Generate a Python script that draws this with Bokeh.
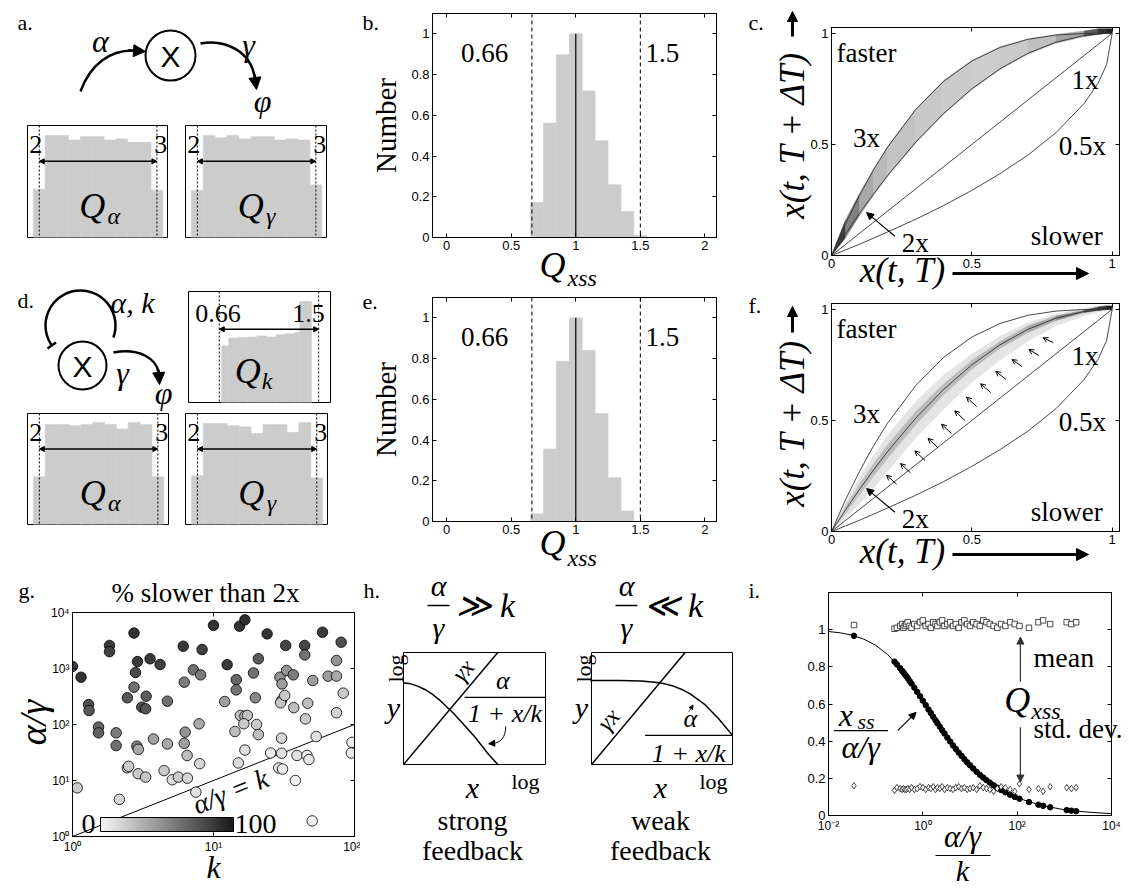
import math
from bokeh.plotting import figure
from bokeh.layouts import row, column
from bokeh.models import (Label, Arrow, NormalHead, OpenHead, FixedTicker, CustomJSTickFormatter,
                          ColorBar, LinearColorMapper, LinearAxis, Span, ColumnDataSource, GridBox)
from bokeh.embed import file_html
from bokeh.resources import INLINE

SERIF = "Liberation Serif"
SANS = "Liberation Sans"
BAR = "#cccccc"
CURVE = "#333333"

# ------------------------------------------------------------------ data
# a / d : parameter histograms (uniform 2..3), normalised heights
unif_edges = [1.95, 2.05, 2.15, 2.25, 2.35, 2.45, 2.55, 2.65, 2.75, 2.85, 2.95, 3.05]
a_alpha_heights = [0.43, 0.91, 0.91, 0.87, 0.90, 0.90, 0.87, 0.88, 0.85, 0.85, 0.42]
a_gamma_heights = [0.42, 0.91, 0.89, 0.91, 0.88, 0.90, 0.90, 0.87, 0.88, 0.87, 0.47]
d_alpha_heights = [0.43, 0.90, 0.90, 0.89, 0.90, 0.92, 0.90, 0.86, 0.92, 0.90, 0.43]
d_gamma_heights = [0.44, 0.91, 0.91, 0.89, 0.88, 0.82, 0.90, 0.90, 0.83, 0.92, 0.42]
unif_lo, unif_hi = 2, 3
k_edges = [0.68, 0.74, 0.82, 0.90, 0.98, 1.06, 1.14, 1.22, 1.30, 1.34, 1.44]
k_heights = [0.51, 0.58, 0.585, 0.59, 0.60, 0.59, 0.61, 0.62, 0.63, 0.91]

# b / e : Q_xss histograms
q_edges = [0.65, 0.75, 0.85, 0.95, 1.05, 1.15, 1.25, 1.35, 1.45, 1.55]
b_heights = [0.172, 0.562, 0.897, 1.0, 0.72, 0.475, 0.259, 0.128, 0.011]
e_heights = [0.038, 0.356, 0.787, 1.0, 0.84, 0.53, 0.215, 0.052, 0.0]
q_lo, q_hi, q_nominal = 0.66, 1.5, 1.0

# c / f : response curves x(t,T) -> x(t,T+dT)
cx = [0, 0.05, 0.1, 0.15, 0.2, 0.3, 0.4, 0.5, 0.6, 0.7, 0.8, 0.9, 0.95, 0.98, 1.0]
y_2x = [0, 0.0975, 0.19, 0.2775, 0.36, 0.51, 0.64, 0.75, 0.84, 0.91, 0.96, 0.99, 0.9975, 0.9996, 1.0]
y_3x = [0, 0.143, 0.271, 0.386, 0.488, 0.657, 0.784, 0.875, 0.936, 0.973, 0.992, 0.999, 1.0, 1.0, 1.0]
y_05x = [0, 0.025, 0.051, 0.078, 0.106, 0.163, 0.225, 0.293, 0.368, 0.452, 0.553, 0.684, 0.776, 0.859, 1.0]
diag_x = [0, 1]
diag_y = [0, 1]
c_band_top = [0, 0.16, 0.28, 0.39, 0.49, 0.66, 0.79, 0.88, 0.94, 0.975, 0.995, 1.01, 1.02, 1.02, 1.02]
c_band_bottom = [0, 0.08, 0.18, 0.27, 0.355, 0.505, 0.635, 0.745, 0.835, 0.905, 0.955, 0.985, 0.995, 1.0, 1.0]
c_band_colors = ["#3c3c3c", "#808080", "#a8a8a8", "#bababa", "#c2c2c2", "#c8c8c8", "#cbcbcb",
                 "#cdcdcd", "#cacaca", "#c0c0c0", "#a4a4a4", "#5a5a5a", "#303030", "#202020"]
f_band_top = [0, 0.13, 0.245, 0.345, 0.435, 0.585, 0.705, 0.80, 0.88, 0.94, 0.98, 1.005, 1.015, 1.02, 1.02]
f_band_bottom = [0, 0.055, 0.125, 0.195, 0.27, 0.42, 0.55, 0.67, 0.77, 0.855, 0.925, 0.97, 0.985, 0.995, 1.0]
f_core_top = [0, 0.115, 0.215, 0.305, 0.39, 0.54, 0.665, 0.77, 0.855, 0.925, 0.97, 0.995, 1.01, 1.015, 1.015]
f_core_bottom = [0, 0.08, 0.165, 0.25, 0.33, 0.48, 0.615, 0.73, 0.825, 0.895, 0.95, 0.985, 0.995, 1.0, 1.0]
f_core_colors = ["#cdcdcd", "#c6c6c6", "#c0c0c0", "#bdbdbd", "#bcbcbc", "#bcbcbc", "#bcbcbc",
                 "#bababa", "#b6b6b6", "#aaaaaa", "#8c8c8c", "#505050", "#303030", "#202020"]
f_arrow_head_x = [0.196, 0.246, 0.297, 0.344, 0.392, 0.439, 0.481, 0.531, 0.585, 0.643, 0.703, 0.754]
f_arrow_head_y = [0.253, 0.306, 0.363, 0.419, 0.483, 0.543, 0.605, 0.665, 0.721, 0.774, 0.819, 0.872]
f_arrow_tail_x = [0.232, 0.282, 0.333, 0.380, 0.428, 0.475, 0.517, 0.567, 0.621, 0.679, 0.739, 0.790]
f_arrow_tail_y = [0.213, 0.263, 0.320, 0.376, 0.440, 0.500, 0.562, 0.625, 0.685, 0.742, 0.792, 0.850]

# g : % slower than 2x
g_k = [1.0, 1.15, 1.08, 1.30, 1.31, 1.53, 1.53, 1.83, 1.83, 2.04, 2.04, 2.15, 2.45, 2.5, 2.45, 2.73, 2.8,
       2.89, 2.73, 2.86, 2.93, 2.92, 3.3, 3.1, 3.3, 3.33, 3.55, 3.75, 4.18, 4.46, 4.71, 4.71, 5.1, 5.63,
       6.53, 6.1, 6.2, 6.2, 6.3, 6.5, 7.2, 7.5, 7.98, 7.9, 8.1, 8.3, 10.0, 12.5, 12.0, 14.2, 14.5, 14.5,
       15.0, 15.3, 16.7, 15.5, 16.7, 17.4, 16.4, 16.7, 19.2, 19.8, 20.2, 20.8, 20.8, 24.0, 25.4, 29.0,
       30.9, 30.4, 30.4, 29.6, 30.6, 30.4, 29.9, 32.0, 32.5, 33.0, 36.8, 37.1, 38.1, 39.1, 44.3, 44.4,
       44.9, 46.0, 46.6, 47.5, 50.1, 50.6, 53.5, 59.3, 65.0, 74.5, 74.5, 74.5, 80.4, 83.2, 96.0, 95.0]
g_ratio = [1090, 700, 7.4, 227, 178, 90, 71, 2580, 2000, 71, 42, 4.6, 16.8, 17.9, 300, 464, 850, 1330,
           4300, 41, 36, 13.2, 11.5, 204, 191, 320, 1490, 55, 1180, 15, 45, 261, 10.3, 11.5, 11, 2500,
           570, 46, 73, 28, 946, 6.2, 20, 103, 770, 2180, 5900, 1170, 257, 75, 630, 415, 20.6, 5700,
           7400, 145, 141, 145, 103, 35, 833, 300, 100, 66, 1490, 4150, 31, 16.8, 16, 57, 30.7, 700,
           530, 270, 244, 330, 2580, 920, 770, 200, 10, 28, 2580, 1750, 126, 28, 240, 23.7, 1.9, 611,
           61, 4450, 730, 1390, 730, 162, 2950, 363, 48, 31]
g_shade = [85, 88, 20, 75, 72, 65, 68, 85, 82, 55, 60, 15, 22, 20, 72, 60, 78, 85, 88, 55, 35, 20, 22,
           75, 72, 70, 85, 38, 82, 20, 35, 60, 12, 20, 15, 85, 55, 40, 45, 25, 60, 10, 15, 35, 55, 82,
           88, 85, 40, 25, 65, 58, 12, 88, 90, 25, 25, 25, 20, 12, 60, 50, 20, 25, 70, 88, 5, 8, 5, 15,
           10, 45, 40, 25, 22, 20, 80, 45, 55, 25, 3, 10, 80, 60, 20, 5, 25, 8, 2, 40, 10, 85, 40, 45,
           35, 15, 75, 20, 3, 5]
g_line_k = [1, 100]
g_line_ratio = [1, 100]

# h : schematic nullclines (box units)
h_line_x = [0, 0.664]
h_line_y = [0, 1]
h_strong_x = [0, 0.05, 0.10, 0.15, 0.20, 0.25, 0.30, 0.35, 0.40, 0.50, 0.60, 0.664]
h_strong_y = [0.73, 0.72, 0.70, 0.67, 0.63, 0.58, 0.52, 0.46, 0.39, 0.25, 0.09, 0.0]
h_weak_x = [0, 0.2, 0.35, 0.45, 0.52, 0.58, 0.64, 0.7, 0.8, 0.9, 1.0]
h_weak_y = [0.75, 0.75, 0.745, 0.735, 0.72, 0.70, 0.67, 0.63, 0.54, 0.41, 0.26]

# i : normalised steady state vs (alpha/gamma)/k
i_curve_ratio = [0.01, 0.0178, 0.0316, 0.0562, 0.1, 0.178, 0.316, 0.562, 1, 1.78, 3.16, 5.62, 10,
                 17.8, 31.6, 56.2, 100, 316, 1000, 3162, 10000]
i_curve_y = [0.990, 0.983, 0.970, 0.949, 0.916, 0.867, 0.798, 0.714, 0.618, 0.520, 0.426, 0.342,
             0.270, 0.211, 0.163, 0.125, 0.095, 0.055, 0.031, 0.018, 0.010]
i_ratio = [0.0347, 0.251, 0.282, 0.331, 0.363, 0.389, 0.417, 0.447, 0.479, 0.525, 0.575, 0.661, 0.759,
           0.871, 1.0, 1.15, 1.32, 1.48, 1.66, 1.86, 2.04, 2.29, 2.57, 2.88, 3.31, 3.80, 4.37, 5.01,
           5.75, 6.61, 7.59, 8.71, 10.0, 11.7, 13.8, 16.2, 19.1, 22.4, 26.3, 31.6, 38.0, 45.7, 56.2,
           70.8, 89.1, 112, 178, 282, 355, 501, 1122, 1413, 1778]
i_xss = [0.967, 0.828, 0.813, 0.792, 0.779, 0.770, 0.759, 0.749, 0.739, 0.724, 0.710, 0.688, 0.665,
         0.642, 0.618, 0.594, 0.570, 0.551, 0.531, 0.512, 0.497, 0.478, 0.459, 0.441, 0.419, 0.398,
         0.377, 0.358, 0.339, 0.321, 0.303, 0.286, 0.270, 0.253, 0.235, 0.219, 0.204, 0.190, 0.177,
         0.163, 0.150, 0.137, 0.125, 0.112, 0.100, 0.090, 0.072, 0.058, 0.052, 0.044, 0.029, 0.026, 0.023]
i_mean = [1.025, 1.005, 1.010, 1.020, 1.030, 1.010, 1.020, 1.030, 1.040, 1.020,
          1.010, 1.030, 1.020, 1.040, 1.050, 1.020, 1.030, 1.010, 1.040, 1.030,
          1.020, 1.040, 1.050, 1.020, 1.030, 1.040, 1.020, 1.030, 1.010, 1.040,
          1.050, 1.030, 1.020, 1.040, 1.030, 1.020, 1.050, 1.040, 1.030, 1.020,
          1.010, 1.030, 1.020, 1.040, 1.030, 1.020, 1.010, 1.040, 1.050, 1.030,
          1.040, 1.030, 1.040]
i_std = [0.160, 0.135, 0.150, 0.145, 0.140, 0.145, 0.140, 0.140, 0.145, 0.140,
         0.150, 0.140, 0.145, 0.155, 0.150, 0.140, 0.150, 0.145, 0.155, 0.140,
         0.150, 0.145, 0.155, 0.140, 0.150, 0.145, 0.140, 0.150, 0.155, 0.145,
         0.150, 0.140, 0.145, 0.150, 0.140, 0.160, 0.150, 0.145, 0.140, 0.130,
         0.145, 0.155, 0.150, 0.140, 0.130, 0.170, 0.140, 0.145, 0.130, 0.155,
         0.150, 0.145, 0.150]


# ------------------------------------------------------------------ helpers
def panel(w, h, left, top, fw, fh, xr, yr, axes=False, outline=True, xlog=False, ylog=False):
    p = figure(width=w, height=h, x_range=xr, y_range=yr,
               x_axis_type="log" if xlog else "linear", y_axis_type="log" if ylog else "linear",
               x_axis_location="below" if axes else None, y_axis_location="left" if axes else None,
               toolbar_location=None, output_backend="svg", frame_align=False,
               min_border_left=left, min_border_top=top,
               min_border_right=w - left - fw, min_border_bottom=h - top - fh)
    p.grid.visible = False
    p.outline_line_color = "black" if outline else None
    p.outline_line_width = 1
    p.background_fill_color = "white"
    p.border_fill_color = "white"
    return p


def num_fmt():
    return CustomJSTickFormatter(code="return String(Math.round(tick*100)/100);")


def sup_fmt():
    return CustomJSTickFormatter(code="""
const s = {'-':'\u207b','0':'\u2070','1':'\u00b9','2':'\u00b2','3':'\u00b3','4':'\u2074'};
const e = Math.round(Math.log10(tick));
return '10' + String(e).split('').map(c => s[c]).join('');
""")


def style_axis(ax, ticks, fmt, size=13):
    ax.ticker = FixedTicker(ticks=ticks)
    ax.formatter = fmt
    ax.major_tick_in = 4
    ax.major_tick_out = 0
    ax.minor_tick_line_color = None
    ax.axis_line_color = "black"
    ax.major_tick_line_color = "black"
    ax.major_label_text_font = SANS
    ax.major_label_text_font_size = f"{size}px"
    ax.major_label_text_color = "black"
    ax.major_label_standoff = 3


def box_ticks(p, xticks, yticks):
    for place, t in (("above", xticks), ("right", yticks)):
        ax = LinearAxis()
        style_axis(ax, t, CustomJSTickFormatter(code="return '';"))
        ax.major_label_text_font_size = "0px"
        ax.major_label_standoff = 0
        p.add_layout(ax, place)


def lab(p, x, y, text, size, font=SERIF, style="normal", align="left", baseline="middle",
        angle=0.0, color="black"):
    p.add_layout(Label(x=x, y=y, text=text, text_font=font, text_font_size=f"{size}px",
                       text_font_style=style, text_align=align, text_baseline=baseline,
                       angle=angle, text_color=color))


def arrow(p, x0, y0, x1, y1, size=8, width=1.0, color="black", open_head=False, both=False, head=True):
    def mk():
        if open_head:
            return OpenHead(size=size, line_color=color, line_width=width)
        return NormalHead(size=size, fill_color=color, line_color=color, line_width=1)
    p.add_layout(Arrow(x_start=x0, y_start=y0, x_end=x1, y_end=y1,
                       start=mk() if both else None, end=mk() if head else None,
                       line_color=color, line_width=width))


def small_hist(w, h, left, top, fw, fh, xr, edges, heights, lo, hi, lo_txt, hi_txt,
               lo_x, lo_align, hi_x, hi_align, txt_y, bar_y, q_x, sub, sub_x):
    p = panel(w, h, left, top, fw, fh, xr, (0, 1))
    p.quad(left=edges[:-1], right=edges[1:], bottom=0, top=heights, fill_color=BAR,
           line_color=BAR, line_width=0.6)
    for v in (lo, hi):
        p.add_layout(Span(location=v, dimension="height", line_color="black", line_dash="2 2", line_width=1))
    arrow(p, lo, bar_y, hi, bar_y, size=5, width=1.5, both=True)
    lab(p, lo_x, txt_y, lo_txt, 26, align=lo_align)
    lab(p, hi_x, txt_y, hi_txt, 26, align=hi_align)
    lab(p, q_x, 0.28, "Q", 36, style="italic", align="center")
    lab(p, sub_x, 0.19, sub, 24, style="italic")
    return p


def unif(w, h, left, top, fw, fh, heights, sub):
    return small_hist(w, h, left, top, fw, fh, (1.9, 3.09), unif_edges, heights, unif_lo, unif_hi,
                      "2", "3", 1.915, "left", 3.088, "right", 0.83, 0.68, 2.45, sub, 2.58)


def qxss(h, top, heights):
    p = panel(400, h, 92, top, 284, 224, (-0.11, 2.09), (0, 1.1), axes=True)
    p.quad(left=q_edges[:-1], right=q_edges[1:], bottom=0, top=heights, fill_color=BAR,
           line_color=BAR, line_width=0.6)
    for v in (q_lo, q_hi):
        p.add_layout(Span(location=v, dimension="height", line_dash="4 3", line_color="black", line_width=1))
    p.line([q_nominal, q_nominal], [0, max(heights)], line_color="black", line_width=1.2)
    xt = [0, 0.5, 1, 1.5, 2]
    yt = [0, 0.2, 0.4, 0.6, 0.8, 1]
    style_axis(p.xaxis[0], xt, num_fmt())
    style_axis(p.yaxis[0], yt, num_fmt())
    box_ticks(p, xt, yt)
    p.yaxis[0].axis_label = "Number"
    p.yaxis[0].axis_label_text_font = SERIF
    p.yaxis[0].axis_label_text_font_style = "normal"
    p.yaxis[0].axis_label_text_font_size = "29px"
    p.yaxis[0].axis_label_text_color = "black"
    p.yaxis[0].axis_label_standoff = 6
    lab(p, 0.11, 0.905, "0.66", 27)
    lab(p, 1.54, 0.905, "1.5", 27)
    return p


def speed(h, top, core=False):
    p = panel(389, h, 91, top, 288, 228, (0, 1.026), (0, 1.026), axes=True)
    segs = range(len(cx) - 1)
    xs = [[cx[i], cx[i + 1], cx[i + 1], cx[i]] for i in segs]
    if core:
        p.varea(x=cx, y1=f_band_bottom, y2=f_band_top, fill_color="#e4e4e4")
        ys = [[f_core_bottom[i], f_core_bottom[i + 1], f_core_top[i + 1], f_core_top[i]] for i in segs]
        p.patches(xs, ys, fill_color=f_core_colors, line_color=f_core_colors, line_width=0.5)
    else:
        ys = [[c_band_bottom[i], c_band_bottom[i + 1], c_band_top[i + 1], c_band_top[i]] for i in segs]
        p.patches(xs, ys, fill_color=c_band_colors, line_color=c_band_colors, line_width=0.5)
    for yy in (y_2x, y_3x, y_05x):
        p.line(cx, yy, line_color=CURVE, line_width=0.9)
    p.line(diag_x, diag_y, line_color=CURVE, line_width=0.9)
    t = [0, 0.5, 1]
    style_axis(p.xaxis[0], t, num_fmt())
    style_axis(p.yaxis[0], t, num_fmt())
    box_ticks(p, t, t)
    lab(p, 0.018, 0.91, "faster", 27)
    lab(p, 0.077, 0.53, "3x", 27)
    lab(p, 0.855, 0.79, "1x", 27)
    lab(p, 0.81, 0.495, "0.5x", 27)
    lab(p, 0.71, 0.09, "slower", 27)
    lab(p, 0.25, 0.057, "2x", 27)
    arrow(p, 0.226, 0.087, 0.125, 0.193, size=7, width=1.2)
    return p


# ------------------------------------------------------------------ row 1
pa = panel(340, 120, 0, 0, 340, 120, (0, 340), (0, 120), outline=False)
lab(pa, 17, 98, "a.", 22)
pa.circle(x=[170], y=[65], radius=25, fill_color=None, line_color="black", line_width=2)
lab(pa, 170, 64, "X", 30, font=SANS, align="center")
pa.bezier(x0=[80], y0=[29], cx0=[90], cy0=[57], cx1=[110], cy1=[70], x1=[132], y1=[70],
          line_color="black", line_width=2.5)
arrow(pa, 128, 70.2, 145, 69, size=12, width=2.5)
lab(pa, 100, 80, "α", 32, style="italic", align="center")
pa.bezier(x0=[200], y0=[77], cx0=[226], cy0=[82], cx1=[250], cy1=[68], x1=[254], y1=[44],
          line_color="black", line_width=2.5)
arrow(pa, 254, 46, 256, 31, size=12, width=2.5)
lab(pa, 248, 76, "γ", 32, style="italic", align="center")
lab(pa, 262, 20, "φ", 32, style="italic", align="center")

hA1 = unif(176, 165, 27, 5, 140, 112, a_alpha_heights, "α")
hA2 = unif(164, 165, 9, 5, 141, 112, a_gamma_heights, "γ")
pb = qxss(285, 13, b_heights)
pc = speed(285, 27)

# ------------------------------------------------------------------ row 2
pd = panel(176, 120, 0, 0, 176, 120, (0, 176), (0, 120), outline=False)
lab(pd, 17, 105, "d.", 22)
pd.arc(x=[80], y=[80], radius=35, start_angle=-20, end_angle=215, start_angle_units="deg",
       end_angle_units="deg", direction="anticlock", line_color="black", line_width=2.5)
pd.segment(x0=[47], y0=[57], x1=[55.5], y1=[63], line_color="black", line_width=2.5)
pd.circle(x=[82], y=[40], radius=24, fill_color=None, line_color="black", line_width=2)
lab(pd, 82, 39, "X", 30, font=SANS, align="center")
pd.bezier(x0=[113], y0=[53], cx0=[140], cy0=[58], cx1=[156], cy1=[46], x1=[158], y1=[33],
          line_color="black", line_width=2.5)
arrow(pd, 158, 36, 159, 21, size=12, width=2.5)
lab(pd, 122, 33, "γ", 32, style="italic", align="center")

hK = small_hist(164, 120, 12, 6, 142, 111, (0.40, 1.60), k_edges, k_heights, q_lo, q_hi,
                "0.66", "1.5", 0.65, "center", 1.415, "center", 0.80, 0.66, 0.90, "k", 1.02)
hD1 = unif(176, 175, 27, 8, 141, 111, d_alpha_heights, "α")
hD2 = unif(164, 175, 9, 8, 142, 111, d_gamma_heights, "γ")
pe = qxss(295, 12, e_heights)
pf = speed(295, 18, core=True)
pf.add_layout(Arrow(source=ColumnDataSource(dict(x0=f_arrow_tail_x, y0=f_arrow_tail_y,
                                                  x1=f_arrow_head_x, y1=f_arrow_head_y)),
                    x_start="x0", y_start="y0", x_end="x1", y_end="y1",
                    end=OpenHead(size=5, line_color="black", line_width=1),
                    line_color="black", line_width=1))

# ------------------------------------------------------------------ row 3
pg = panel(360, 308, 72, 32, 282, 224, (1, 100), (1, 10000), axes=True, xlog=True, ylog=True)
pal = ["#%02x%02x%02x" % (v, v, v) for v in range(246, 24, -1)]
mapper = LinearColorMapper(palette=pal, low=0, high=100)
pg.line(g_line_k, g_line_ratio, line_color="black", line_width=1)
src_g = ColumnDataSource(dict(k=g_k, r=g_ratio, shade=g_shade))
pg.scatter("k", "r", source=src_g, size=10.5, line_color="black", line_width=0.8,
           fill_color={"field": "shade", "transform": mapper})
style_axis(pg.xaxis[0], [1, 10, 100], sup_fmt(), 12)
style_axis(pg.yaxis[0], [1, 10, 100, 1000, 10000], sup_fmt(), 12)
box_ticks(pg, [1, 10, 100], [1, 10, 100, 1000, 10000])
cb = ColorBar(color_mapper=mapper, orientation="horizontal", location=(28, 5), width=133, height=14,
              padding=0, margin=0, ticker=FixedTicker(ticks=[]), major_label_text_font_size="0px",
              major_tick_line_color=None, minor_tick_line_color=None, bar_line_color="black",
              border_line_color=None, background_fill_alpha=0.0, label_standoff=0)
pg.add_layout(cb)
lab(pg, 1.30, 1.64, "0", 28, align="center")
lab(pg, 14.1, 1.64, "100", 28)
lab(pg, 13.2, 6.4, "α/γ = k", 28, style="italic", align="center", angle=0.379)

ph1 = panel(200, 308, 43, 72, 142, 112, (0, 1), (0, 1))
ph1.line(h_line_x, h_line_y, line_color="black", line_width=1.5)
ph1.line(h_strong_x, h_strong_y, line_color="black", line_width=1.5)
lab(ph1, 0.42, 0.84, "γx", 24, style="italic", align="center", angle=0.87)
lab(ph1, 0.70, 0.75, "α", 26, style="italic", align="center")
arrow(ph1, 0.43, 0.60, 1.0, 0.60, width=1.2, head=False)
lab(ph1, 0.715, 0.455, "1 + x/k", 26, style="italic", align="center")
ph1.bezier(x0=[0.72], y0=[0.34], cx0=[0.72], cy0=[0.24], cx1=[0.68], cy1=[0.19], x1=[0.63], y1=[0.19],
           line_color="black", line_width=1)
arrow(ph1, 0.64, 0.19, 0.60, 0.185, size=6, width=1)

ph2 = panel(180, 308, 31, 72, 141, 112, (0, 1), (0, 1))
ph2.line(h_line_x, h_line_y, line_color="black", line_width=1.5)
ph2.line(h_weak_x, h_weak_y, line_color="black", line_width=1.5)
lab(ph2, 0.12, 0.40, "γx", 24, style="italic", align="center", angle=0.87)
lab(ph2, 0.70, 0.41, "α", 26, style="italic", align="center")
arrow(ph2, 0.69, 0.47, 0.72, 0.53, size=4, width=0.8)
arrow(ph2, 0.38, 0.26, 1.0, 0.26, width=1.2, head=False)
lab(ph2, 0.69, 0.10, "1 + x/k", 26, style="italic", align="center")

pi_ = panel(389, 308, 88, 12, 283, 223, (0.01, 10000), (0, 1.2), axes=True, xlog=True)
pi_.line(i_curve_ratio, i_curve_y, line_color="black", line_width=1)
pi_.scatter(i_ratio, i_xss, marker="circle", size=5.5, color="black")
pi_.scatter(i_ratio, i_mean, marker="square", size=5.5, fill_color="white", line_color="black", line_width=0.7)
pi_.scatter(i_ratio, i_std, marker="diamond", size=6.5, fill_color="white", line_color="black", line_width=0.7)
style_axis(pi_.xaxis[0], [0.01, 1, 100, 10000], sup_fmt(), 12)
style_axis(pi_.yaxis[0], [0, 0.2, 0.4, 0.6, 0.8, 1], num_fmt(), 13)
box_ticks(pi_, [0.01, 1, 100, 10000], [0, 0.2, 0.4, 0.6, 0.8, 1])
lab(pi_, 100, 0.62, "Q", 36, style="italic", align="center")
lab(pi_, 200, 0.565, "xss", 24, style="italic")
arrow(pi_, 117, 0.72, 117, 0.96, size=7, width=1.2, color="#333333")
arrow(pi_, 117, 0.475, 117, 0.18, size=7, width=1.2, color="#333333")
lab(pi_, 0.0233, 0.54, "x", 32, style="italic", align="center")
lab(pi_, 0.041, 0.505, "ss", 22, style="italic")
arrow(pi_, 0.013, 0.457, 0.182, 0.457, width=1.2, head=False)
lab(pi_, 0.048, 0.37, "α/γ", 32, style="italic", align="center")
arrow(pi_, 0.293, 0.457, 0.718, 0.555, size=7, width=1.2)

main = column(
    row(column(pa, row(hA1, hA2)), pb, pc),
    row(column(row(pd, hK), row(hD1, hD2)), pe, pf),
    row(pg, row(ph1, ph2), pi_),
)

# ------------------------------------------------------------------ overlay for texts outside plot boxes
ov = figure(width=1129, height=888, x_range=(0, 1129), y_range=(888, 0), min_border=0,
            x_axis_location=None, y_axis_location=None, toolbar_location=None,
            output_backend="svg", frame_align=False)
ov.grid.visible = False
ov.outline_line_color = None
ov.background_fill_color = None
ov.border_fill_color = None

# panel letters
for txt, x, y in (("b.", 362, 22), ("c.", 748, 22), ("e.", 362, 301), ("f.", 748, 305),
                  ("g.", 18, 590), ("h.", 363, 590), ("i.", 748, 590)):
    lab(ov, x, y, txt, 22)
# d diagram labels that straddle sub-figure edges
lab(ov, 110, 302, "α, k", 30, style="italic")
lab(ov, 163, 392, "φ", 32, style="italic", align="center")
# Q_xss axis labels (b, e)
for yq, ys in ((264, 277), (542, 557)):
    lab(ov, 552, yq, "Q", 36, style="italic", align="center")
    lab(ov, 567, ys, "xss", 24, style="italic")
# c / f axis labels with arrows
for ycen, up0, up1, xl in ((135, 36, 11, 270), (423, 332, 306, 551)):
    lab(ov, 792, ycen, "x(t, T + ΔT)", 35, style="italic", align="center", angle=math.pi / 2)
    arrow(ov, 792, up0, 792, up1, size=10, width=3)
    lab(ov, 902, xl, "x(t, T)", 35, style="italic", align="center")
    arrow(ov, 952, xl + 3, 1088, xl + 3, size=12, width=3)
# g labels
lab(ov, 205, 592, "% slower than 2x", 27, align="center")
lab(ov, 32, 722, "α/γ", 38, style="italic", align="center", angle=math.pi / 2)
lab(ov, 213, 866, "k", 32, style="italic", align="center")
# h labels
for x0, rel, word in ((403, "≫ k", "strong"), (591, "≪ k", "weak")):
    lab(ov, x0 + 35, 585, "α", 30, style="italic", align="center")
    arrow(ov, x0 + 24, 605, x0 + 46, 605, width=1.5, head=False)
    lab(ov, x0 + 35, 627, "γ", 30, style="italic", align="center")
    lab(ov, x0 + 52, 605, rel, 34, style="italic")
    lab(ov, x0 - 8, 668, "log", 22, align="center", angle=math.pi / 2)
    lab(ov, x0 - 10, 707, "y", 30, style="italic", align="center")
    lab(ov, x0 + 69, 787, "x", 30, style="italic", align="center")
    lab(ov, x0 + 122, 781, "log", 22, align="center")
    lab(ov, x0 + 69, 820, word, 28, align="center")
    lab(ov, x0 + 69, 850, "feedback", 28, align="center")
# i labels
lab(ov, 1033, 657, "mean", 28)
lab(ov, 1033, 728, "std. dev.", 27)
lab(ov, 962, 836, "α/γ", 31, style="italic", align="center")
arrow(ov, 935, 855, 990, 855, width=1.2, head=False)
lab(ov, 962, 870, "k", 30, style="italic", align="center")

layout = GridBox(children=[(main, 0, 0), (ov, 0, 0)])

open("out.html", "w").write(file_html(layout, INLINE))
